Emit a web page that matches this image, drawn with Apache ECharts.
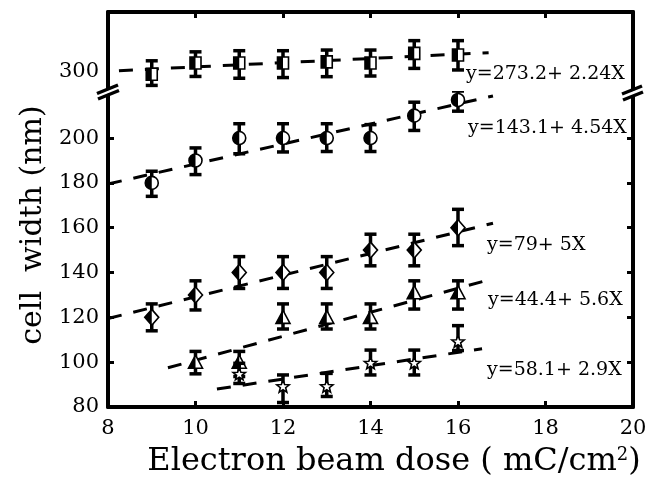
<!DOCTYPE html>
<html>
<head>
<meta charset="utf-8">
<script src="https://cdn.jsdelivr.net/npm/echarts@6/dist/echarts.min.js"></script>
<style>html,body{margin:0;padding:0;background:#fff}#c{width:651px;height:483px}</style>
</head>
<body>
<div id="c"></div>
<script>
// ---- data ----
const doseAll = [9, 10, 11, 12, 13, 14, 15, 16];
const doseTri = [10, 11, 12, 13, 14, 15, 16];
const doseStar = [11, 12, 13, 14, 15, 16];

const sqMean = [299, 304, 304, 304, 304.5, 304, 308.3, 307.6];
const sqLow  = [294, 298, 297.2, 297.5, 297.9, 298.2, 301.6, 300.9];
const sqHigh = [305, 309, 309.5, 309.5, 309.8, 309.8, 314, 314];

const ciMean = [180, 190, 200, 200, 200, 200, 210, 217];
const ciLow  = [174, 183.7, 193, 193.8, 194, 194, 203.4, 212];
const ciHigh = [185.2, 195.6, 206.4, 206.4, 206.4, 206, 216, 221];

const diMean = [120, 130, 140, 140, 140, 150, 150, 160];
const diLow  = [114, 123.3, 132.9, 132.9, 132.9, 143, 143, 152];
const diHigh = [126, 136.3, 147.1, 147.1, 147.1, 157.1, 157.1, 168.2];

const trMean = [100, 100, 120, 120, 120, 131, 131];
const trLow  = [94.8, 93.6, 114.8, 114.8, 114.8, 123.7, 123.7];
const trHigh = [104.8, 104.8, 126, 126, 126, 136.3, 136.3];

const stMean = [94.5, 89, 89, 99.4, 99.4, 109];
const stLow  = [90.5, 82, 84.7, 94.3, 94.3, 105.2];
const stHigh = [99.5, 94.3, 95, 105.4, 105.4, 116.3];

// fitted lines (end points)
const fitSq = [[8.25, 300.6], [16.7, 308.6]];
const fitCi = [[8, 179.5], [16.8, 218.8]];
const fitDi = [[8, 119.5], [16.8, 162]];
const fitTr = [[9.37, 97.5], [16.66, 136.5]];
const fitSt = [[10.49, 88], [16.55, 106]];

const eqTexts = ['y=273.2+ 2.24X', 'y=143.1+ 4.54X', 'y=79+ 5X', 'y=44.4+ 5.6X', 'y=58.1+ 2.9X'];

const xTicks = [8, 10, 12, 14, 16, 18, 20];
const yLowerTicks = [80, 100, 120, 140, 160, 180, 200];
const yUpperTicks = [300];

// ---- chart ----
const FONT = '"DejaVu Serif", serif';
const chart = echarts.init(document.getElementById('c'), null, {renderer: 'canvas'});

function rows(xs, m, lo, hi) { return xs.map((x, i) => [x, m[i], lo[i], hi[i]]); }

function markerEls(shape, cx, cy) {
  const st = {fill: '#fff', stroke: '#000', lineWidth: 1.6};
  const blk = {fill: '#000'};
  const els = [];
  if (shape === 'circle') {
    els.push({type: 'circle', shape: {cx, cy, r: 6.5}, style: st});
    els.push({type: 'sector', shape: {cx, cy, r: 6.5, r0: 0, startAngle: Math.PI / 2, endAngle: Math.PI * 1.5}, style: blk});
  } else if (shape === 'square') {
    els.push({type: 'rect', shape: {x: cx - 5.5, y: cy - 6, width: 11, height: 12}, style: st});
    els.push({type: 'rect', shape: {x: cx - 5.5, y: cy - 6, width: 5.5, height: 12}, style: blk});
  } else if (shape === 'diamond') {
    els.push({type: 'polygon', shape: {points: [[cx, cy - 8], [cx + 7, cy], [cx, cy + 8], [cx - 7, cy]]}, style: st});
    els.push({type: 'polygon', shape: {points: [[cx, cy - 8], [cx, cy + 8], [cx - 7, cy]]}, style: blk});
  } else if (shape === 'triangle') {
    els.push({type: 'polygon', shape: {points: [[cx, cy - 7], [cx + 7, cy + 6], [cx - 7, cy + 6]]}, style: st});
    els.push({type: 'polygon', shape: {points: [[cx, cy - 7], [cx, cy + 6], [cx - 7, cy + 6]]}, style: blk});
  } else if (shape === 'star') {
    const pts = [];
    for (let k = 0; k < 10; k++) {
      const r = k % 2 === 0 ? 6.5 : 2.8;
      const a = -Math.PI / 2 + k * Math.PI / 5;
      pts.push([cx + r * Math.cos(a), cy + r * Math.sin(a)]);
    }
    els.push({type: 'polygon', shape: {points: pts}, style: {fill: '#fff', stroke: '#000', lineWidth: 1.6}});
  }
  return els;
}

function errSeries(shape, data, gi) {
  return {
    type: 'custom',
    xAxisIndex: gi, yAxisIndex: gi * 2,
    clip: true,
    data: data,
    encode: {x: 0, y: [1, 2, 3]},
    z: 5,
    renderItem: function (params, api) {
      const x = api.value(0);
      const pm = api.coord([x, api.value(1)]);
      const pl = api.coord([x, api.value(2)]);
      const ph = api.coord([x, api.value(3)]);
      const ls = {stroke: '#000', lineWidth: 3.5};
      const children = [
        {type: 'line', shape: {x1: pl[0], y1: pl[1], x2: ph[0], y2: ph[1]}, style: ls},
        {type: 'line', shape: {x1: ph[0] - 6, y1: ph[1], x2: ph[0] + 6, y2: ph[1]}, style: ls},
        {type: 'line', shape: {x1: pl[0] - 6, y1: pl[1], x2: pl[0] + 6, y2: pl[1]}, style: ls}
      ].concat(markerEls(shape, pm[0], pm[1]));
      return {type: 'group', children: children};
    }
  };
}

function fitSeries(data, gi) {
  return {
    type: 'line', xAxisIndex: gi, yAxisIndex: gi * 2, data: data,
    showSymbol: false, symbol: 'none', silent: true, z: 3,
    lineStyle: {color: '#000', width: 3, type: [14, 12]}
  };
}

const axLine = {show: true, onZero: false, lineStyle: {color: '#000', width: 4}};
const tickStyle = {color: '#000', width: 3};
const lblStyle = {color: '#000', fontFamily: FONT, fontSize: 21};

const option = {
  animation: false,
  backgroundColor: '#fff',
  grid: [
    {left: 108, right: 18, top: 12, height: 79},
    {left: 108, right: 18, top: 91, bottom: 76}
  ],
  xAxis: [
    {gridIndex: 0, type: 'value', min: 8, max: 20, interval: 2, position: 'top',
     axisLine: axLine, axisTick: {show: true, inside: true, length: 6, lineStyle: tickStyle},
     axisLabel: {show: false}, splitLine: {show: false}},
    {gridIndex: 1, type: 'value', min: 8, max: 20, interval: 2, position: 'bottom',
     axisLine: axLine, axisTick: {show: true, inside: true, length: 6, lineStyle: tickStyle},
     axisLabel: Object.assign({margin: 11, customValues: xTicks}, lblStyle), splitLine: {show: false}}
  ],
  yAxis: [
    {gridIndex: 0, type: 'value', min: 291.5, max: 326.8, position: 'left',
     axisLine: axLine, axisTick: {show: false},
     axisLabel: Object.assign({margin: 9, customValues: yUpperTicks}, lblStyle), splitLine: {show: false}},
    {gridIndex: 0, type: 'value', min: 291.5, max: 326.8, position: 'right',
     axisLine: axLine, axisTick: {show: false}, axisLabel: {show: false}, splitLine: {show: false}},
    {gridIndex: 1, type: 'value', min: 80, max: 221, position: 'left',
     axisLine: axLine,
     axisTick: {show: true, inside: true, length: 6, lineStyle: tickStyle, customValues: yLowerTicks.slice(1)},
     axisLabel: Object.assign({margin: 9, customValues: yLowerTicks}, lblStyle), splitLine: {show: false}},
    {gridIndex: 1, type: 'value', min: 80, max: 221, position: 'right',
     axisLine: axLine,
     axisTick: {show: true, inside: true, length: 6, lineStyle: tickStyle, customValues: yLowerTicks.slice(1)},
     axisLabel: {show: false}, splitLine: {show: false}}
  ],
  series: [
    fitSeries(fitSq, 0),
    fitSeries(fitCi, 1),
    fitSeries(fitDi, 1),
    fitSeries(fitTr, 1),
    fitSeries(fitSt, 1),
    errSeries('square', rows(doseAll, sqMean, sqLow, sqHigh), 0),
    errSeries('circle', rows(doseAll, ciMean, ciLow, ciHigh), 1),
    errSeries('diamond', rows(doseAll, diMean, diLow, diHigh), 1),
    errSeries('triangle', rows(doseTri, trMean, trLow, trHigh), 1),
    errSeries('star', rows(doseStar, stMean, stLow, stHigh), 1)
  ],
  graphic: [
    // axis break marks
    {type: 'polygon', shape: {points: [[98, 94], [117, 86], [117, 90], [98, 98]]}, style: {fill: '#fff'}, z: 100},
    {type: 'line', shape: {x1: 97, y1: 93.5, x2: 118, y2: 85}, style: {stroke: '#000', lineWidth: 3.5}, z: 101},
    {type: 'line', shape: {x1: 98, y1: 99, x2: 119, y2: 90.5}, style: {stroke: '#000', lineWidth: 3.5}, z: 101},
    {type: 'polygon', shape: {points: [[623, 95], [641, 87.5], [641, 92], [623, 99]]}, style: {fill: '#fff'}, z: 100},
    {type: 'line', shape: {x1: 622, y1: 94, x2: 642, y2: 86}, style: {stroke: '#000', lineWidth: 3.5}, z: 101},
    {type: 'line', shape: {x1: 623, y1: 100, x2: 643, y2: 92}, style: {stroke: '#000', lineWidth: 3.5}, z: 101},
    // fit equations
    {type: 'text', x: 466, y: 74, z: 50, style: {text: eqTexts[0], font: '19px ' + FONT, fill: '#000', textVerticalAlign: 'middle'}},
    {type: 'text', x: 468, y: 128, z: 50, style: {text: eqTexts[1], font: '19px ' + FONT, fill: '#000', textVerticalAlign: 'middle'}},
    {type: 'text', x: 487, y: 245, z: 50, style: {text: eqTexts[2], font: '19px ' + FONT, fill: '#000', textVerticalAlign: 'middle'}},
    {type: 'text', x: 488, y: 300, z: 50, style: {text: eqTexts[3], font: '19px ' + FONT, fill: '#000', textVerticalAlign: 'middle'}},
    {type: 'text', x: 487, y: 370, z: 50, style: {text: eqTexts[4], font: '19px ' + FONT, fill: '#000', textVerticalAlign: 'middle'}},
    // axis titles
    {type: 'text', x: 33, y: 225, rotation: Math.PI / 2, z: 50,
     style: {text: 'cell  width (nm)', font: '30px ' + FONT, fill: '#000', textAlign: 'center', textVerticalAlign: 'middle'}},
    {type: 'text', x: 394, y: 462, z: 50,
     style: {text: 'Electron beam dose ( mC/cm{sup|2})', font: '32px ' + FONT, fill: '#000', textAlign: 'center', textVerticalAlign: 'middle',
             rich: {sup: {fontSize: 18, fontFamily: FONT, verticalAlign: 'top', fill: '#000'}}}}
  ]
};
chart.setOption(option);
</script>
</body>
</html>
